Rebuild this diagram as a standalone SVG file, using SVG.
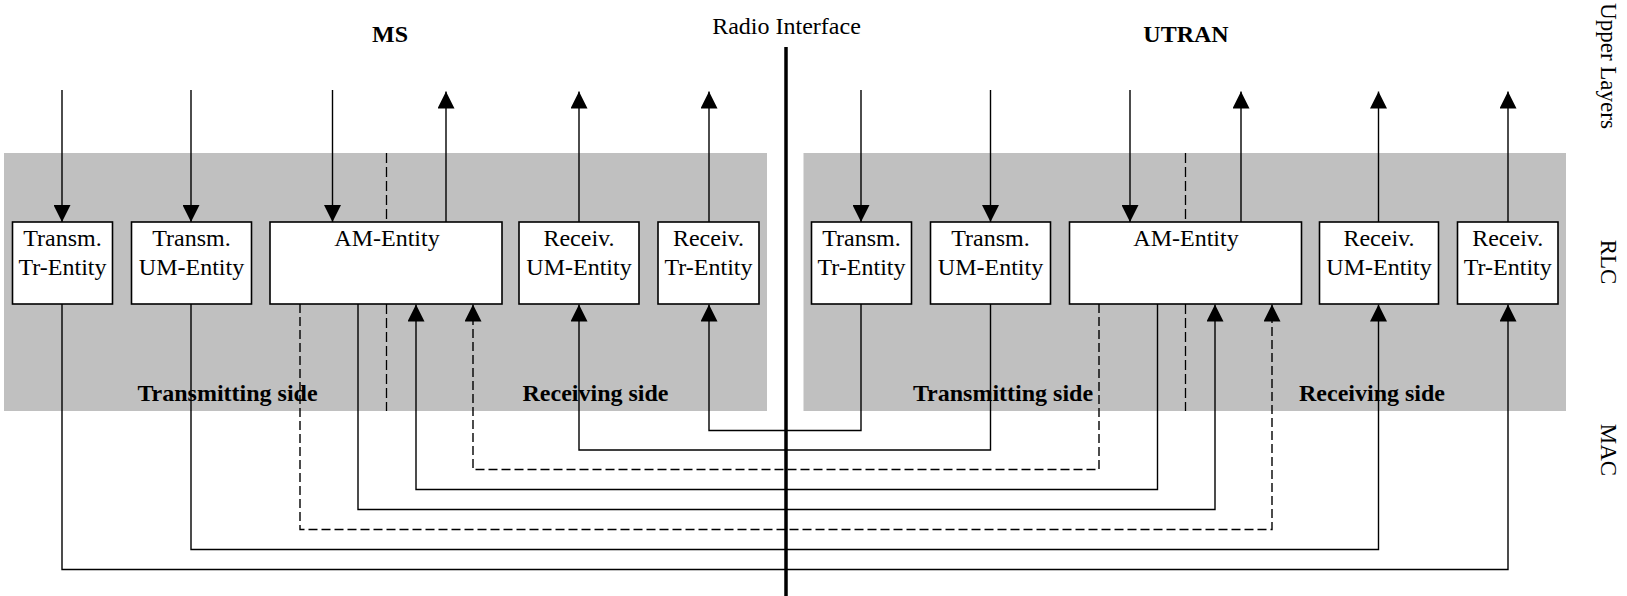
<svg xmlns="http://www.w3.org/2000/svg" width="1627" height="596" viewBox="0 0 1627 596">
<style>
text { font-family: "Liberation Serif", "Times New Roman", serif; fill: #000; }
.t { font-size: 24px; text-anchor: middle; }
.b { font-size: 24px; font-weight: bold; text-anchor: middle; }
.side { font-size: 23px; text-anchor: middle; }
.band { fill: #c0c0c0; }
.box { fill: #fff; stroke: #000; stroke-width: 1.6; }
.ln { fill: none; stroke: #000; stroke-width: 1.4; }
.dl { fill: none; stroke: #000; stroke-width: 1.4; stroke-dasharray: 9 4; }
.div { fill: none; stroke: #000; stroke-width: 1.3; stroke-dasharray: 10 4; }
</style>
<defs>
<marker id="ah" viewBox="0 0 17 17" markerWidth="17" markerHeight="17" refX="17" refY="8.5" orient="auto" markerUnits="userSpaceOnUse">
<path d="M0,0 L17,8.5 L0,17 z" fill="#000"/>
</marker>
</defs>
<rect fill="#fff" x="0" y="0" width="1627" height="596"/>
<g id="bands">
<rect class="band" x="4" y="153" width="763" height="258"/>
<rect class="band" x="803.5" y="153" width="762.5" height="258"/>
</g>
<g id="labels">
<text class="b" x="390" y="42">MS</text>
<text class="b" x="1186" y="42">UTRAN</text>
<text class="t" x="786.5" y="34">Radio Interface</text>
<text class="b" x="227.5" y="400.5">Transmitting side</text>
<text class="b" x="595.5" y="400.5">Receiving side</text>
<text class="b" x="1003" y="400.5">Transmitting side</text>
<text class="b" x="1372" y="400.5">Receiving side</text>
<text class="side" transform="translate(1601,66) rotate(90)">Upper Layers</text>
<text class="side" transform="translate(1601,262) rotate(90)">RLC</text>
<text class="side" transform="translate(1601,450) rotate(90)">MAC</text>
</g>
<g id="dividers">
<line class="div" x1="386.5" y1="153" x2="386.5" y2="222"/>
<line class="div" x1="386.5" y1="304" x2="386.5" y2="411"/>
<line class="div" x1="1185.5" y1="153" x2="1185.5" y2="222"/>
<line class="div" x1="1185.5" y1="304" x2="1185.5" y2="411"/>
</g>
<g id="ms-transm-tr">
<rect class="box" x="12.5" y="222" width="100" height="82"/>
<text class="t" x="62.5" y="245.5">Transm.</text>
<text class="t" x="62.5" y="274.5">Tr-Entity</text>
</g>
<g id="ms-transm-um">
<rect class="box" x="131.5" y="222" width="120" height="82"/>
<text class="t" x="191.5" y="245.5">Transm.</text>
<text class="t" x="191.5" y="274.5">UM-Entity</text>
</g>
<g id="ms-am">
<rect class="box" x="270" y="222" width="232" height="82"/>
<text class="t" x="387" y="245.5">AM-Entity</text>
</g>
<g id="ms-receiv-um">
<rect class="box" x="519" y="222" width="120" height="82"/>
<text class="t" x="579" y="245.5">Receiv.</text>
<text class="t" x="579" y="274.5">UM-Entity</text>
</g>
<g id="ms-receiv-tr">
<rect class="box" x="658" y="222" width="101" height="82"/>
<text class="t" x="708.5" y="245.5">Receiv.</text>
<text class="t" x="708.5" y="274.5">Tr-Entity</text>
</g>
<g id="utran-transm-tr">
<rect class="box" x="811.5" y="222" width="100" height="82"/>
<text class="t" x="861.5" y="245.5">Transm.</text>
<text class="t" x="861.5" y="274.5">Tr-Entity</text>
</g>
<g id="utran-transm-um">
<rect class="box" x="930.5" y="222" width="120" height="82"/>
<text class="t" x="990.5" y="245.5">Transm.</text>
<text class="t" x="990.5" y="274.5">UM-Entity</text>
</g>
<g id="utran-am">
<rect class="box" x="1069.5" y="222" width="232" height="82"/>
<text class="t" x="1186" y="245.5">AM-Entity</text>
</g>
<g id="utran-receiv-um">
<rect class="box" x="1319.5" y="222" width="119" height="82"/>
<text class="t" x="1379" y="245.5">Receiv.</text>
<text class="t" x="1379" y="274.5">UM-Entity</text>
</g>
<g id="utran-receiv-tr">
<rect class="box" x="1457.5" y="222" width="100.5" height="82"/>
<text class="t" x="1507.75" y="245.5">Receiv.</text>
<text class="t" x="1507.75" y="274.5">Tr-Entity</text>
</g>
<g id="connectors">
<line class="ln" x1="62" y1="90" x2="62" y2="222" marker-end="url(#ah)"/>
<line class="ln" x1="191" y1="90" x2="191" y2="222" marker-end="url(#ah)"/>
<line class="ln" x1="332.5" y1="90" x2="332.5" y2="222" marker-end="url(#ah)"/>
<line class="ln" x1="446" y1="222" x2="446" y2="91.5" marker-end="url(#ah)"/>
<line class="ln" x1="579" y1="222" x2="579" y2="91.5" marker-end="url(#ah)"/>
<line class="ln" x1="709" y1="222" x2="709" y2="91.5" marker-end="url(#ah)"/>
<line class="ln" x1="861" y1="90" x2="861" y2="222" marker-end="url(#ah)"/>
<line class="ln" x1="990.5" y1="90" x2="990.5" y2="222" marker-end="url(#ah)"/>
<line class="ln" x1="1130" y1="90" x2="1130" y2="222" marker-end="url(#ah)"/>
<line class="ln" x1="1241" y1="222" x2="1241" y2="91.5" marker-end="url(#ah)"/>
<line class="ln" x1="1378.5" y1="222" x2="1378.5" y2="91.5" marker-end="url(#ah)"/>
<line class="ln" x1="1508" y1="222" x2="1508" y2="91.5" marker-end="url(#ah)"/>
<polyline class="ln" points="62,304 62,569.5 1508,569.5 1508,304.5" marker-end="url(#ah)"/>
<polyline class="ln" points="191,304 191,549.5 1378.5,549.5 1378.5,304.5" marker-end="url(#ah)"/>
<polyline class="dl" points="300,304 300,529.5 1272,529.5 1272,304.5" marker-end="url(#ah)"/>
<polyline class="ln" points="358,304 358,509.5 1215,509.5 1215,304.5" marker-end="url(#ah)"/>
<polyline class="ln" points="1157.5,304 1157.5,489.5 416,489.5 416,304.5" marker-end="url(#ah)"/>
<polyline class="dl" points="1099,304 1099,469.5 473,469.5 473,304.5" marker-end="url(#ah)"/>
<polyline class="ln" points="990.5,304 990.5,450 579,450 579,304.5" marker-end="url(#ah)"/>
<polyline class="ln" points="861,304 861,430.5 709,430.5 709,304.5" marker-end="url(#ah)"/>
</g>
<g id="radio-interface">
<line x1="786" y1="47" x2="786" y2="596" stroke="#000" stroke-width="3.5"/>
</g>
</svg>
